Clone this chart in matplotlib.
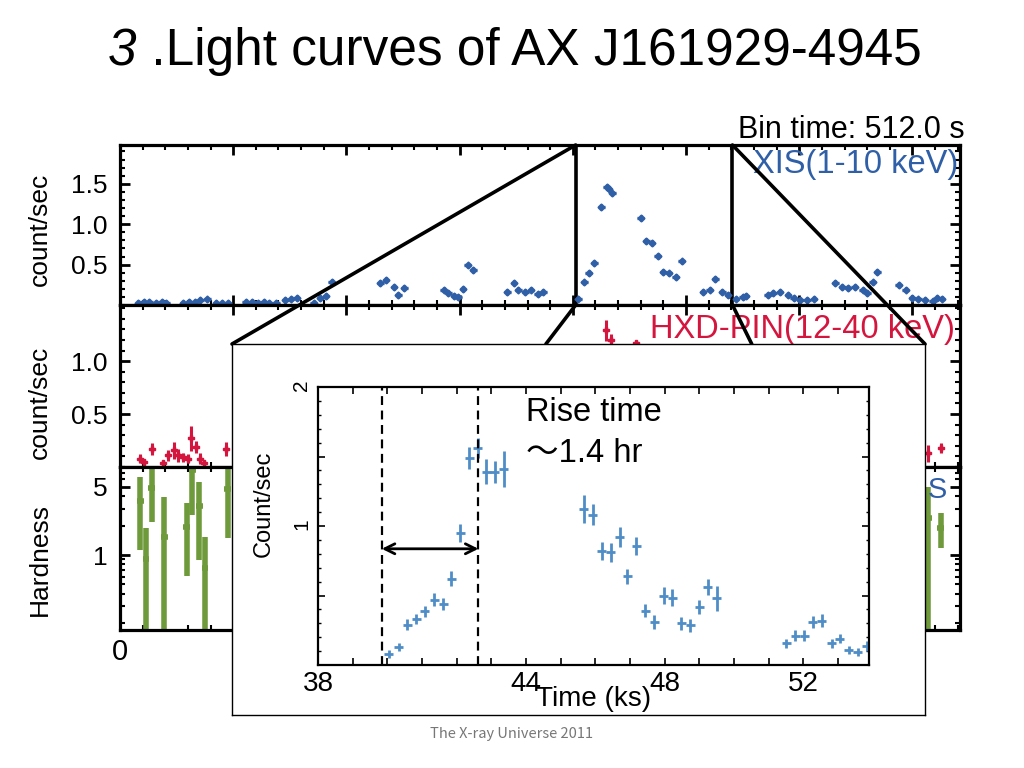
import matplotlib
matplotlib.use('Agg')
import matplotlib.pyplot as plt
from matplotlib.patches import ConnectionPatch
from matplotlib.ticker import MultipleLocator, FuncFormatter, NullFormatter

plt.rcParams['font.family'] = ['Liberation Sans', 'DejaVu Sans']

# ---- XIS light curve (top panel), time in ks
xis_t = [1.6, 2.1, 2.6, 3.2, 3.7, 4.1,
         5.6, 6.1, 6.6, 7.1, 7.7,
         8.5, 9.0, 9.5,
         11.1, 11.7, 12.2, 12.7, 13.2, 13.8,
         14.6, 15.1, 15.6,
         17.1, 17.7, 18.2, 18.7,
         23.0, 23.5, 24.2, 24.6, 25.1,
         28.6, 29.0, 29.5, 29.9, 30.3, 30.7, 31.2,
         34.2, 34.8, 35.2, 35.8, 36.3, 36.9, 37.4,
         40.5, 41.0, 41.4, 41.9, 42.5, 43.0, 43.2, 43.5,
         46.0, 46.5, 47.0, 47.5, 48.0, 48.5, 49.1, 49.6,
         51.5, 52.1, 52.6, 53.2, 53.7, 54.4, 55.0, 55.3,
         57.2, 57.7, 58.3, 59.0, 59.5, 60.1, 60.7, 61.3,
         63.2, 63.8, 64.3, 64.9, 65.6, 66.0, 66.5, 66.9,
         68.8, 69.4, 70.0, 70.5, 71.1, 71.8, 72.2, 72.6]
xis_c = [0.03, 0.04, 0.04, 0.03, 0.04, 0.03,
         0.03, 0.04, 0.04, 0.06, 0.07,
         0.03, 0.03, 0.03,
         0.04, 0.04, 0.03, 0.04, 0.03, 0.03,
         0.06, 0.08, 0.09,
         0.03, 0.09, 0.11, 0.29,
         0.27, 0.31, 0.22, 0.12, 0.21,
         0.19, 0.15, 0.11, 0.10, 0.20, 0.49, 0.43,
         0.16, 0.27, 0.19, 0.16, 0.19, 0.14, 0.16,
         0.08, 0.28, 0.40, 0.52, 1.21, 1.46, 1.44, 1.38,
         1.08, 0.79, 0.77, 0.61, 0.41, 0.39, 0.35, 0.54,
         0.16, 0.19, 0.32, 0.16, 0.12, 0.08, 0.10, 0.11,
         0.12, 0.15, 0.16, 0.12, 0.09, 0.06, 0.06, 0.08,
         0.27, 0.22, 0.21, 0.22, 0.19, 0.15, 0.28, 0.41,
         0.25, 0.19, 0.09, 0.07, 0.06, 0.05, 0.09, 0.08]
xis_err = 0.035

# ---- HXD-PIN light curve (middle panel)
hxd_t = [1.8, 2.1, 2.8, 3.8, 4.2, 4.8, 5.1, 5.6, 6.0, 6.3, 6.7, 7.1, 7.4, 9.4,
         42.9, 43.4, 45.6, 71.4, 72.5]
hxd_c = [0.08, 0.05, 0.17, 0.04, 0.11, 0.16, 0.11, 0.09, 0.08, 0.27, 0.19, 0.08, 0.04, 0.17,
         1.29, 1.20, 1.17, 0.13, 0.18]
hxd_err = [0.04, 0.03, 0.06, 0.03, 0.05, 0.08, 0.06, 0.04, 0.04, 0.12, 0.06, 0.05, 0.03, 0.07,
           0.10, 0.06, 0.02, 0.08, 0.05]

# ---- hardness ratio (bottom panel)
hr_t = [1.8, 2.3, 2.8, 3.9, 5.9, 6.4, 7.0, 7.5, 9.5, 71.4, 72.5]
hr_v = [3.6, 0.91, 4.9, 1.53, 1.94, 7.5, 3.2, 0.73, 4.8, 2.4, 1.9]
hr_lo = [1.13, 0.05, 2.2, 0.05, 0.61, 2.6, 0.89, 0.05, 1.5, 0.05, 1.18]
hr_hi = [6.3, 1.9, 7.8, 3.9, 3.4, 7.8, 5.6, 1.53, 7.8, 5.0, 2.7]

# ---- zoomed flare (inset)
rise_t = [40.04, 40.33, 40.58, 40.84, 41.08, 41.35, 41.61, 41.84, 42.10, 42.36, 42.61, 42.85, 43.10, 43.36,
          45.67, 45.93, 46.19, 46.45, 46.71, 46.93, 47.19, 47.45, 47.71, 47.97, 48.22, 48.48, 48.74,
          49.00, 49.25, 49.51,
          51.51, 51.77, 52.03, 52.28, 52.54, 52.83, 53.05, 53.31, 53.57, 53.83]
rise_c = [0.08, 0.13, 0.29, 0.33, 0.385, 0.47, 0.44, 0.62, 0.95, 1.49, 1.56, 1.39, 1.39, 1.41,
          1.12, 1.08, 0.82, 0.81, 0.92, 0.64, 0.855, 0.39, 0.31, 0.50, 0.485, 0.30, 0.285,
          0.42, 0.56, 0.48,
          0.155, 0.21, 0.21, 0.31, 0.32, 0.155, 0.19, 0.11, 0.095, 0.135]
rise_err = [0.03, 0.03, 0.04, 0.036, 0.04, 0.048, 0.045, 0.054, 0.066, 0.08, 0.072, 0.09, 0.08, 0.13,
            0.10, 0.075, 0.066, 0.07, 0.07, 0.054, 0.066, 0.048, 0.048, 0.06, 0.06, 0.045, 0.045,
            0.05, 0.056, 0.09,
            0.035, 0.04, 0.04, 0.045, 0.045, 0.035, 0.035, 0.03, 0.03, 0.035]
rise_start, rise_end = 39.84, 42.63
zoom_lo, zoom_hi = 40.25, 54.1

BLUE = '#2f5fa6'
RED = '#d4163f'
GREEN = '#6e9a3c'
LBLUE = '#4e8dc6'

W, H = 1024, 768
fig = plt.figure(figsize=(10.24, 7.68), dpi=100)


def px(l, t, r, b):
    return [l / W, 1 - b / H, (r - l) / W, (b - t) / H]


ax1 = fig.add_axes(px(120, 145, 960, 305))
ax2 = fig.add_axes(px(120, 305, 960, 467), sharex=ax1)
ax3 = fig.add_axes(px(120, 467, 960, 630), sharex=ax1)

for ax in (ax1, ax2, ax3):
    for s in ax.spines.values():
        s.set_linewidth(2.3)
    ax.tick_params(which='both', direction='in', top=True, right=True, labelsize=19, pad=9)
    ax.tick_params(which='major', length=7, width=2)
    ax.tick_params(which='minor', length=3.5, width=1.5)
    ax.xaxis.set_major_locator(MultipleLocator(10))
    ax.xaxis.set_minor_locator(MultipleLocator(2))
ax1.set_xlim(0, 74.2)
ax1.tick_params(labelbottom=False)
ax2.tick_params(labelbottom=False)
ax3.xaxis.set_major_formatter(FuncFormatter(lambda v, p: '0' if v == 0 else ''))
ax3.tick_params(axis='x', labelsize=21, pad=6)

# top: XIS
ax1.errorbar(xis_t, xis_c, yerr=xis_err, xerr=0.3, fmt='D', ms=3.5, color=BLUE,
             elinewidth=2.4, capsize=0)
ax1.set_ylim(0, 1.98)
ax1.set_yticks([0.5, 1.0, 1.5], ['0.5', '1.0', '1.5'])
ax1.yaxis.set_minor_locator(MultipleLocator(0.1))
ax1.set_ylabel('count/sec', fontsize=19)
ax1.yaxis.set_label_coords(-0.081, 0.47)
ax1.text(0.998, 0.875, 'XIS(1-10 keV)', transform=ax1.transAxes, ha='right', va='center',
         color=BLUE, fontsize=23.5)
ax1.axvline(zoom_lo, color='k', lw=2.6)
ax1.axvline(zoom_hi, color='k', lw=2.6)

# middle: HXD-PIN
ax2.errorbar(hxd_t, hxd_c, yerr=hxd_err, xerr=0.25, fmt='P', ms=4, color=RED,
             elinewidth=2.2, capsize=0)
ax2.set_ylim(0, 1.53)
ax2.set_yticks([0.5, 1.0], ['0.5', '1.0'])
ax2.yaxis.set_minor_locator(MultipleLocator(0.1))
ax2.set_ylabel('count/sec', fontsize=19)
ax2.yaxis.set_label_coords(-0.081, 0.40)
ax2.text(0.994, 0.846, 'HXD-PIN(12-40 keV)', transform=ax2.transAxes, ha='right', va='center',
         color=RED, fontsize=23.5)

# bottom: hardness
hr_err = [[v - lo for v, lo in zip(hr_v, hr_lo)], [hi - v for v, hi in zip(hr_v, hr_hi)]]
ax3.errorbar(hr_t, hr_v, yerr=hr_err, xerr=0.3, fmt='none', ecolor=GREEN,
             elinewidth=4, capsize=0)
ax3.set_yscale('log')
ax3.set_ylim(0.17, 8)
ax3.set_yticks([1, 5], ['1', '5'])
ax3.set_yticks([0.2, 0.3, 0.4, 0.5, 0.6, 0.7, 0.8, 0.9, 2, 3, 4, 6, 7, 8], minor=True)
ax3.yaxis.set_minor_formatter(NullFormatter())
ax3.set_ylabel('Hardness', fontsize=19)
ax3.yaxis.set_label_coords(-0.081, 0.435)
ax3.text(0.986, 0.86, 'HXD/XIS', transform=ax3.transAxes, ha='right', va='center',
         color=BLUE, fontsize=21)

fig.text(965 / W, 1 - 130 / H, 'Bin time: 512.0 s', ha='right', va='center', fontsize=22)

# inset with the zoomed flare
box = fig.add_axes(px(232, 344, 925, 715), zorder=5)
box.set_xticks([])
box.set_yticks([])
for s in box.spines.values():
    s.set_linewidth(1.0)

inset = fig.add_axes(px(318, 387, 869, 665), zorder=6)
inset.errorbar(rise_t, rise_c, yerr=rise_err, xerr=0.13, fmt='none', ecolor=LBLUE,
               elinewidth=2, capsize=0)
inset.set_xlim(38, 53.9)
inset.set_ylim(0, 2)
inset.axvline(rise_start, color='k', ls='--', lw=1.6, dashes=(4, 2.5))
inset.axvline(rise_end, color='k', ls='--', lw=1.6, dashes=(4, 2.5))
inset.annotate('', xy=(rise_start, 0.836), xytext=(rise_end, 0.836),
               arrowprops=dict(arrowstyle='<->', lw=2, color='k', shrinkA=0, shrinkB=0,
                               mutation_scale=18))
inset.text(44.0, 1.82, 'Rise time', fontsize=23.5, va='center')
inset.text(44.0, 1.52, '～1.4 hr', fontsize=23.5, va='center',
           family=['Liberation Sans', 'Noto Sans CJK JP'])
for s in inset.spines.values():
    s.set_linewidth(1.6)
inset.xaxis.set_major_locator(MultipleLocator(1))
inset.xaxis.set_major_formatter(FuncFormatter(
    lambda v, p: '%d' % round(v) if round(v) in (38, 44, 48, 52) else ''))
inset.yaxis.set_major_locator(MultipleLocator(0.5))
inset.yaxis.set_minor_locator(MultipleLocator(0.1))
inset.yaxis.set_major_formatter(FuncFormatter(
    lambda v, p: '%d' % round(v) if v in (1, 2) else ''))
inset.tick_params(which='both', direction='in', top=True, right=True)
inset.tick_params(which='major', length=5, width=1.2)
inset.tick_params(which='minor', length=2.5, width=1)
inset.tick_params(axis='x', labelsize=20, pad=4)
inset.tick_params(axis='y', labelsize=15, labelrotation=90, pad=5)
inset.set_xlabel('Time (ks)', fontsize=20)
inset.xaxis.set_label_coords(0.5, -0.075)
inset.set_ylabel('Count/sec', fontsize=17)
inset.yaxis.set_label_coords(-0.078, 0.58)

# zoom connector lines
xa = ax1.get_xaxis_transform()
for xy_a, xy_b in [((zoom_lo, 1), (0, 1)), ((zoom_hi, 1), (1, 1)),
                   ((zoom_lo, 0), (0.453, 1)), ((zoom_hi, 0), (0.750, 1))]:
    con = ConnectionPatch(xyA=xy_a, coordsA=xa, xyB=xy_b, coordsB=box.transAxes,
                          color='k', lw=2.6)
    fig.add_artist(con)

# title: italic "3" followed by the rest
t3 = fig.text(108 / W, 1 - 52 / H, '3', style='italic', ha='left', va='center', fontsize=37)
ax1.annotate(' .Light curves of AX J161929-4945', xy=(1, 0), xycoords=t3,
             ha='left', va='bottom', fontsize=37, annotation_clip=False)
fig.text(0.5, 1 - 734 / H, 'The X-ray Universe 2011', ha='center', va='center',
         fontsize=10.5, color='#777777', family=['Noto Sans CJK JP', 'DejaVu Sans'])

fig.savefig('out.png', dpi=100)
